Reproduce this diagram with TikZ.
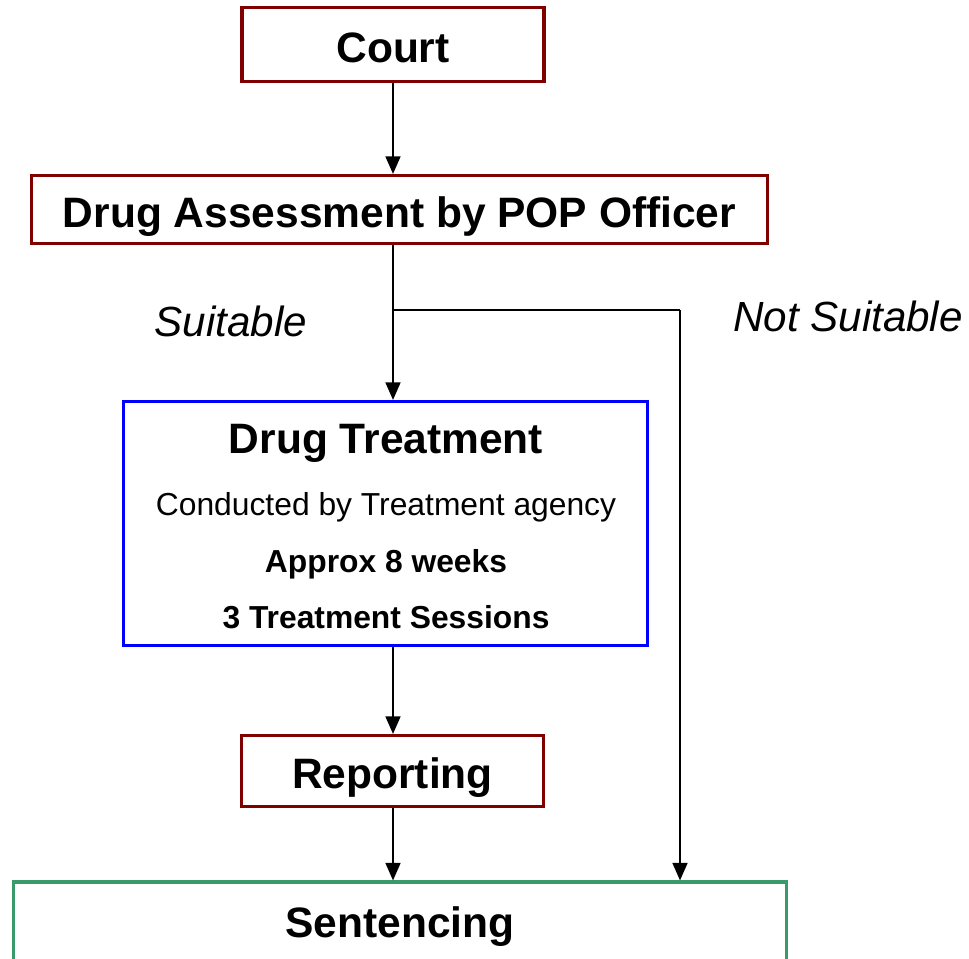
\documentclass[tikz,border=0pt]{standalone}
\usepackage{fontspec}
\setmainfont{Liberation Sans}
\usetikzlibrary{arrows.meta}
\definecolor{boxred}{RGB}{128,0,0}
\definecolor{boxblue}{RGB}{0,0,255}
\definecolor{boxgreen}{RGB}{58,154,106}

\begin{document}
\begin{tikzpicture}[
        x=0.02cm, y=-0.02cm,
        stagebox/.style={
            draw,
            line width=1.8pt,
            inner sep=0pt,
            text height=20.1pt,
            text depth=0pt,
            font=\fontsize{24.2}{29}\selectfont\bfseries},
        flowline/.style={
            -{Triangle[length=10pt,width=8.5pt]},
            line width=1.1pt},
        detailtext/.style={anchor=base, font=\fontsize{18.1}{22}\selectfont},
        branchtext/.style={anchor=base, font=\fontsize{24}{29}\selectfont\itshape}
        ]

        \useasboundingbox (0,0) rectangle (969,958);
        \clip (0,0) rectangle (969,958);

        % stages
        \node[stagebox, draw=boxred, minimum width=6.04cm, minimum height=1.48cm] (court) at (393,44.5) {Court};
        \node[stagebox, draw=boxred, minimum width=14.72cm, minimum height=1.36cm] (assess) at (399.5,209.5) {Drug Assessment by POP Officer};
        \node[stagebox, draw=boxblue, minimum width=10.48cm, minimum height=4.88cm] (treat) at (385.5,523.5) {};
        \node[stagebox, draw=boxred, minimum width=6.04cm, minimum height=1.42cm] (report) at (392.5,771) {Reporting};
        \node[stagebox, draw=boxgreen, text height=17.3pt, text depth=1.7pt, minimum width=15.46cm, minimum height=1.68cm] (sentence) at (400,924) {Sentencing};

        % inside the treatment box
        \node[anchor=base, font=\fontsize{24.2}{29}\selectfont\bfseries] (treattitle) at (386,453) {Drug Treatment};
        \node[detailtext] (treatby) at (386,515) {Conducted by Treatment agency};
        \node[detailtext, font=\fontsize{18.1}{22}\selectfont\bfseries] (treatweeks) at (386,572) {Approx 8 weeks};
        \node[detailtext, font=\fontsize{18.1}{22}\selectfont\bfseries] (treatsessions) at (386,628) {3 Treatment Sessions};

        % branch labels
        \node[branchtext] (suitable) at (231,336) {Suitable};
        \node[branchtext] (notsuitable) at (848,331) {Not Suitable};

        \coordinate (split) at (393,310);
        \coordinate (bend) at (680,310);

        \draw[flowline] (court.south) -- (court.south |- assess.north);
        \draw[line width=1.1pt] (assess.south -| split) -- (split);
        \draw[flowline] (split) -- (split |- treat.north);
        \draw[line width=1.1pt] (split) -- (bend);
        \draw[flowline] (bend) -- (bend |- sentence.north);
        \draw[flowline] (treat.south -| split) -- (report.north -| split);
        \draw[flowline] (report.south -| split) -- (sentence.north -| split);

    \end{tikzpicture}
\end{document}
